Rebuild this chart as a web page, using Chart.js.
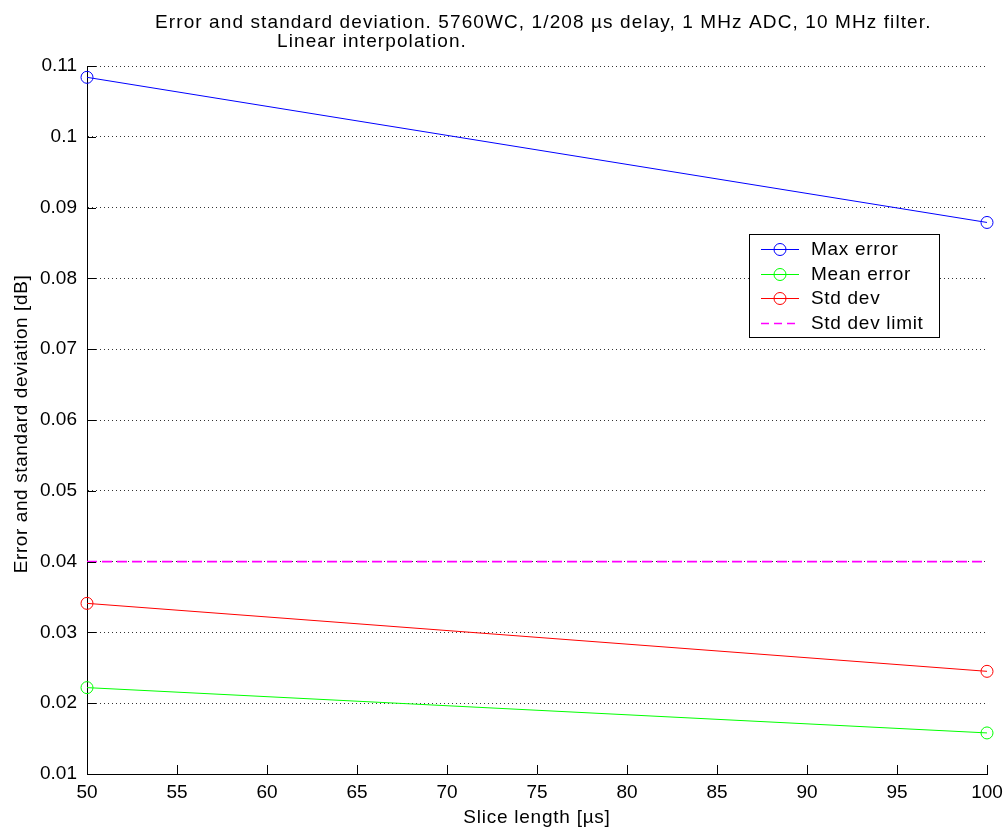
<!DOCTYPE html>
<html>
<head>
<meta charset="utf-8">
<script src="https://cdn.jsdelivr.net/npm/chart.js@4"></script>
<style>
  html, body { margin: 0; padding: 0; background: #fff; }
  #wrap { width: 1007px; height: 832px; position: relative; }
</style>
</head>
<body>
<div id="wrap"><canvas id="grafico"></canvas></div>
<script>
const sliceLength = [50, 100];
const maxError = [0.1084, 0.0879];
const meanError = [0.0222, 0.0158];
const stdDev = [0.0341, 0.0245];
const stdDevLimit = [0.04, 0.04];
const yTicks = [0.01, 0.02, 0.03, 0.04, 0.05, 0.06, 0.07, 0.08, 0.09, 0.1, 0.11];
const xTicks = [50, 55, 60, 65, 70, 75, 80, 85, 90, 95, 100];

const FONT = "'Liberation Sans', Arial, sans-serif";

const toPoints = (ys) => ys.map((y, i) => ({ x: sliceLength[i], y: y }));

// title, axis labels, inward ticks and legend drawn by hand (matlab look)
const matlabBits = {
    id: "matlabBits",
    afterDraw(chart) {
        const c = chart.ctx;
        const a = chart.chartArea;
        const xs = chart.scales.x, ys = chart.scales.y;
        c.save();

        // inward tick marks
        c.strokeStyle = "#000";
        c.lineWidth = 1;
        c.beginPath();
        xTicks.forEach(v => {
            const px = Math.round(xs.getPixelForValue(v)) + 0.5;
            c.moveTo(px, a.bottom);
            c.lineTo(px, a.bottom - 9);
        });
        yTicks.forEach(v => {
            const py = Math.round(ys.getPixelForValue(v)) + 0.5;
            c.moveTo(a.left, py);
            c.lineTo(a.left + 9, py);
        });
        c.stroke();

        c.fillStyle = "#000";
        c.textBaseline = "alphabetic";
        c.font = "19px " + FONT;
        c.letterSpacing = "1.1px";
        c.textAlign = "left";
        c.fillText("Error and standard deviation. 5760WC, 1/208 \u00b5s delay, 1 MHz ADC, 10 MHz filter.", 155, 28);
        c.fillText("Linear interpolation.", 277, 47);

        c.letterSpacing = "0.75px";
        c.textAlign = "center";
        c.fillText("Slice length [\u00b5s]", (a.left + a.right) / 2, 823);

        c.letterSpacing = "0.6px";
        c.save();
        c.translate(27, 424);
        c.rotate(-Math.PI / 2);
        c.fillText("Error and standard deviation [dB]", 0, 0);
        c.restore();

        // legend box
        const lx = 749, ly = 234, lw = 190, lh = 103;
        c.fillStyle = "#fff";
        c.fillRect(lx, ly, lw, lh);
        c.strokeStyle = "#000";
        c.lineWidth = 1;
        c.strokeRect(lx + 0.5, ly + 0.5, lw, lh);
        c.textAlign = "left";
        c.textBaseline = "middle";
        c.letterSpacing = "0.7px";
        chart.data.datasets.forEach((ds, i) => {
            const yy = ly + 15 + i * 24.5;
            c.strokeStyle = ds.borderColor;
            c.lineWidth = ds.borderWidth;
            c.setLineDash(ds.borderDash ? [8, 5] : []);
            c.beginPath();
            c.moveTo(lx + 12, Math.round(yy) + 0.5);
            c.lineTo(lx + 50, Math.round(yy) + 0.5);
            c.stroke();
            c.setLineDash([]);
            c.lineWidth = 1;
            if (ds.pointRadius > 0) {
                c.beginPath();
                c.arc(lx + 31, Math.round(yy) + 0.5, 6, 0, Math.PI * 2);
                c.stroke();
            }
            c.fillStyle = "#000";
            c.fillText(ds.label, lx + 62, yy + 1);
        });
        c.restore();
    }
};

new Chart(document.getElementById("grafico"), {
    type: "line",
    data: {
        datasets: [
            { label: "Max error", data: toPoints(maxError), borderColor: "#0000ff" },
            { label: "Mean error", data: toPoints(meanError), borderColor: "#00ff00" },
            { label: "Std dev", data: toPoints(stdDev), borderColor: "#ff0000" },
            { label: "Std dev limit", data: toPoints(stdDevLimit), borderColor: "#ff00ff",
              borderDash: [10, 5], borderWidth: 1.6, pointRadius: 0 }
        ].map(ds => Object.assign({
            borderWidth: 1,
            pointRadius: 6,
            pointHoverRadius: 6,
            pointBorderWidth: 1,
            pointBackgroundColor: "rgba(0,0,0,0)",
            pointBorderColor: ds.borderColor,
            fill: false,
            tension: 0
        }, ds))
    },
    options: {
        responsive: true,
        maintainAspectRatio: false,
        animation: false,
        clip: false,
        layout: { padding: { top: 66, right: 20, left: 0, bottom: 0 } },
        plugins: {
            legend: { display: false },
            tooltip: { enabled: false }
        },
        scales: {
            x: {
                type: "linear",
                min: 50,
                max: 100,
                afterBuildTicks: (s) => { s.ticks = xTicks.map(v => ({ value: v })); },
                afterFit: (s) => { s.height = 58; s.paddingLeft = 0; s.paddingRight = 0; },
                border: { display: true, color: "#000", width: 1 },
                grid: { display: true, drawOnChartArea: false, drawTicks: false, tickLength: 0 },
                ticks: { color: "#000", font: { family: FONT, size: 19 }, padding: 7, maxRotation: 0 }
            },
            y: {
                min: 0.01,
                max: 0.11,
                afterBuildTicks: (s) => { s.ticks = yTicks.map(v => ({ value: v })); },
                afterFit: (s) => { s.width = 87; s.paddingTop = 0; s.paddingBottom = 0; },
                border: { display: true, color: "#000", width: 1, dash: [1, 3] },
                grid: { color: "#333", lineWidth: 1, drawTicks: false, tickLength: 0 },
                ticks: { color: "#000", font: { family: FONT, size: 19 }, padding: 10,
                         callback: (v) => String(parseFloat(v.toFixed(2))) }
            }
        }
    },
    plugins: [matlabBits]
});
</script>
</body>
</html>
